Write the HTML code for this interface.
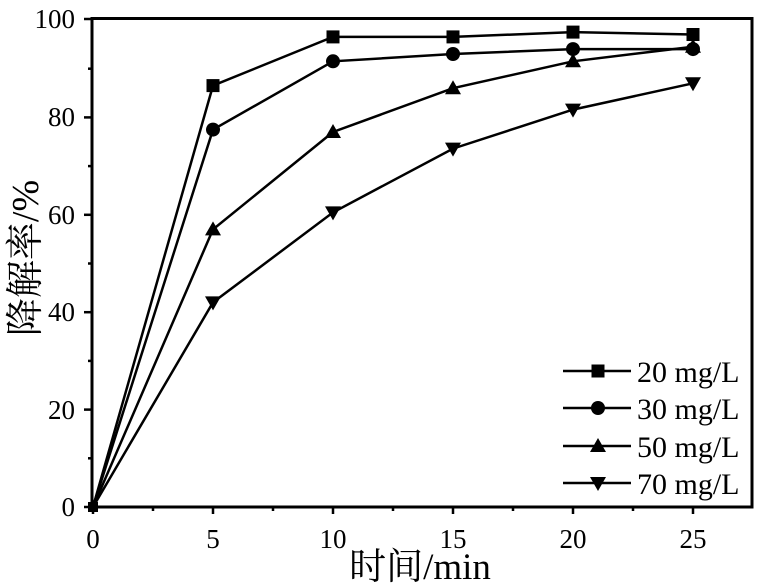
<!DOCTYPE html><html><head><style>body{margin:0;background:#fff}svg{display:block}text{font-family:"Liberation Serif","Noto Serif CJK SC",serif;fill:#000}</style></head><body>
<svg width="758" height="583" viewBox="0 0 758 583" xmlns="http://www.w3.org/2000/svg">
<g stroke="#000" stroke-width="3" fill="none">
<rect x="92" y="18.5" width="660" height="488.5"/>
</g>
<g stroke="#000" stroke-width="2.5">
<line x1="84" y1="507" x2="92" y2="507"/><line x1="84" y1="409.6" x2="92" y2="409.6"/><line x1="84" y1="312.2" x2="92" y2="312.2"/><line x1="84" y1="214.8" x2="92" y2="214.8"/><line x1="84" y1="117.4" x2="92" y2="117.4"/><line x1="84" y1="19" x2="92" y2="19"/>
<line x1="88" y1="458.3" x2="92" y2="458.3"/><line x1="88" y1="360.9" x2="92" y2="360.9"/><line x1="88" y1="263.5" x2="92" y2="263.5"/><line x1="88" y1="166.1" x2="92" y2="166.1"/><line x1="88" y1="68.7" x2="92" y2="68.7"/>
<line x1="93" y1="507" x2="93" y2="514"/><line x1="213" y1="507" x2="213" y2="514"/><line x1="333" y1="507" x2="333" y2="514"/><line x1="453" y1="507" x2="453" y2="514"/><line x1="573" y1="507" x2="573" y2="514"/><line x1="693" y1="507" x2="693" y2="514"/>
<line x1="153" y1="507" x2="153" y2="511"/><line x1="273" y1="507" x2="273" y2="511"/><line x1="393" y1="507" x2="393" y2="511"/><line x1="513" y1="507" x2="513" y2="511"/><line x1="633" y1="507" x2="633" y2="511"/>
</g>
<g font-size="27" text-anchor="end">
<text x="75" y="516">0</text><text x="75" y="419">20</text><text x="75" y="321">40</text><text x="75" y="224">60</text><text x="75" y="126">80</text><text x="75" y="28">100</text>
</g>
<g font-size="27" text-anchor="middle">
<text x="93" y="548">0</text><text x="213" y="548">5</text><text x="333" y="548">10</text><text x="453" y="548">15</text><text x="573" y="548">20</text><text x="693" y="548">25</text>
</g>
<text x="420" y="579" font-size="37" text-anchor="middle">时间/min</text>
<text transform="translate(38,258) rotate(-90)" font-size="38" text-anchor="middle">降解率/%</text>
<g stroke="#000" stroke-width="2.5" fill="none">
<polyline points="93,507 213,85.6 333,36.9 453,36.9 573,32.1 693,34.5"/>
<polyline points="93,507 213,129.6 333,61.3 453,54 573,49.1 693,49.1"/>
<polyline points="93,507 213,229.4 333,132 453,88.2 573,61.3 693,46.7"/>
<polyline points="93,507 213,302.4 333,212.4 453,148.6 573,109.6 693,83.3"/>
<line x1="563" y1="371" x2="631" y2="371"/><line x1="563" y1="408" x2="631" y2="408"/><line x1="563" y1="446" x2="631" y2="446"/><line x1="563" y1="483" x2="631" y2="483"/>
</g>
<g fill="#000">
<rect x="88" y="502" width="10" height="10"/>
<rect x="206.5" y="79.1" width="13" height="13"/><rect x="326.5" y="30.4" width="13" height="13"/><rect x="446.5" y="30.4" width="13" height="13"/><rect x="566.5" y="25.6" width="13" height="13"/><rect x="686.5" y="28" width="13" height="13"/>
<circle cx="213" cy="129.6" r="7"/><circle cx="333" cy="61.3" r="7"/><circle cx="453" cy="54" r="7"/><circle cx="573" cy="49.1" r="7"/><circle cx="693" cy="49.1" r="7"/>
<path d="M213,221.4l8,14h-16z M333,124l8,14h-16z M453,80.2l8,14h-16z M573,53.3l8,14h-16z M693,38.7l8,14h-16z"/>
<path d="M213,310.4l8,-14h-16z M333,220.4l8,-14h-16z M453,156.6l8,-14h-16z M573,117.6l8,-14h-16z M693,91.3l8,-14h-16z"/>
<rect x="591.5" y="364.5" width="13" height="13"/>
<circle cx="598" cy="408" r="7"/>
<path d="M598,438l8,14h-16z M598,491l8,-14h-16z"/>
</g>
<g font-size="30">
<text x="637" y="382">20 mg/L</text><text x="637" y="419">30 mg/L</text><text x="637" y="457">50 mg/L</text><text x="637" y="494">70 mg/L</text>
</g>
</svg></body></html>
